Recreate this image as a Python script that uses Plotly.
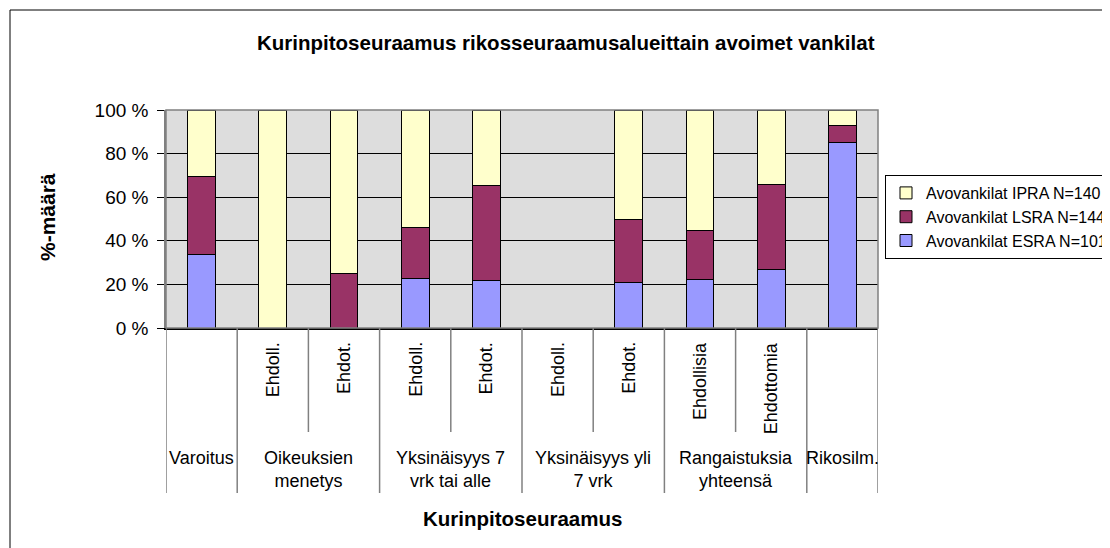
import plotly.graph_objects as go

# ---- data ----
sub_labels = ["", "Ehdoll.", "Ehdot.", "Ehdoll.", "Ehdot.", "Ehdoll.", "Ehdot.", "Ehdollisia", "Ehdottomia", ""]
group_labels = ["Varoitus", "Oikeuksien<br>menetys", "Yksinäisyys 7<br>vrk tai alle",
                "Yksinäisyys yli<br>7 vrk", "Rangaistuksia<br>yhteensä", "Rikosilm."]
group_sizes = [1, 2, 2, 2, 2, 1]
esra = [33.8, 0, 0, 22.8, 21.6, 0, 21.0, 22.4, 26.8, 85.1]
lsra = [35.9, 0, 25.0, 23.3, 43.6, 0, 29.0, 22.3, 39.0, 7.9]
ipra = [30.3, 100, 75.0, 53.9, 34.8, 0, 50.0, 55.3, 34.2, 7.0]
series_names = ["Avovankilat ESRA N=101", "Avovankilat LSRA N=144", "Avovankilat IPRA N=140"]
y_ticks = [0, 20, 40, 60, 80, 100]
y_ticktext = ["0 %", "20 %", "40 %", "60 %", "80 %", "100 %"]
title = "Kurinpitoseuraamus rikosseuraamusalueittain avoimet vankilat"
x_title = "Kurinpitoseuraamus"
y_title = "%-määrä"

# ---- layout geometry (page pixels; the page body adds an 8px offset) ----
OFF = 8
PAGE_W, PAGE_H = 1110, 548
W, H = PAGE_W - OFF, PAGE_H - OFF
PL, PR, PT, PB = 166, 878, 110, 328          # plot area in page pixels
L, T = PL - OFF, PT - OFF
R, B = W - (PR - OFF), H - (PB - OFF)
PW, PH = PR - PL, PB - PT
FONT = "Liberation Sans, Arial, sans-serif"
FS = 18

def px_x(px):
    return (px - PL) / PW

def px_y(py):
    return (PB - py) / PH

xs = list(range(len(sub_labels)))
colors = ["#9999FF", "#993366", "#FFFFCC"]

fig = go.Figure()
for vals, name, col in zip([esra, lsra, ipra], series_names, colors):
    fig.add_trace(go.Bar(x=xs, y=vals, name=name,
                         marker=dict(color=col, line=dict(color="#000000", width=1))))

shapes = []
# outer chart frame
shapes.append(dict(type="rect", xref="paper", yref="paper",
                   x0=px_x(10), x1=px_x(PAGE_W + 20), y0=px_y(PAGE_H + 20), y1=px_y(10),
                   line=dict(color="#000000", width=1), layer="below"))
# plot area border
shapes.append(dict(type="rect", xref="paper", yref="paper", x0=0, x1=1, y0=0, y1=1,
                   line=dict(color="#808080", width=1.5), layer="above"))
# category dividers below the axis
bounds = [-0.5]
for s in group_sizes:
    bounds.append(bounds[-1] + s)
long_y = px_y(493)
short_y = px_y(432)
for b in bounds:
    shapes.append(dict(type="line", xref="x", yref="paper", x0=b, x1=b, y0=0, y1=long_y,
                       line=dict(color="#808080", width=1.5)))
start = -0.5
for s in group_sizes:
    for k in range(1, s):
        xb = start + k
        shapes.append(dict(type="line", xref="x", yref="paper", x0=xb, x1=xb, y0=0, y1=short_y,
                           line=dict(color="#808080", width=1.5)))
    start += s

annotations = []
# sub labels (rotated)
for i, lab in enumerate(sub_labels):
    if lab:
        annotations.append(dict(x=i, y=0, xref="x", yref="paper", text=lab, showarrow=False,
                                textangle=-90, xanchor="center", yanchor="top", yshift=-12,
                                font=dict(family=FONT, size=FS, color="#000000")))
# group labels
start = -0.5
for lab, s in zip(group_labels, group_sizes):
    c = start + s / 2
    annotations.append(dict(x=c, y=0, xref="x", yref="paper", text=lab, showarrow=False,
                            xanchor="center", yanchor="top", yshift=-118,
                            font=dict(family=FONT, size=FS, color="#000000")))
    start += s
# axis titles
annotations.append(dict(x=0.5, y=px_y(518), xref="paper", yref="paper", text="<b>" + x_title + "</b>",
                        showarrow=False, xanchor="center", yanchor="middle",
                        font=dict(family=FONT, size=20.5, color="#000000")))
annotations.append(dict(x=px_x(47), y=px_y(217), xref="paper", yref="paper", text="<b>" + y_title + "</b>",
                        showarrow=False, xanchor="center", yanchor="middle", textangle=-90,
                        font=dict(family=FONT, size=21, color="#000000")))
# chart title
annotations.append(dict(x=px_x(565.5), y=px_y(42), xref="paper", yref="paper", text="<b>" + title + "</b>",
                        showarrow=False, xanchor="center", yanchor="middle",
                        font=dict(family=FONT, size=20.5, color="#000000")))

fig.update_layout(
    width=W, height=H,
    margin=dict(l=L, r=R, t=T, b=B, autoexpand=False),
    paper_bgcolor="#FFFFFF", plot_bgcolor="#DDDDDD",
    barmode="stack", bargap=0.61,
    xaxis=dict(range=[-0.5, len(xs) - 0.5], showticklabels=False, showgrid=False,
               zeroline=False, showline=True, linecolor="#000000", linewidth=1.5, ticks=""),
    yaxis=dict(range=[0, 100], tickvals=y_ticks, ticktext=y_ticktext, showgrid=True,
               gridcolor="#000000", gridwidth=1, zeroline=False, showline=True,
               linecolor="#808080", linewidth=1.5, ticks="outside", ticklen=7,
               tickcolor="#000000", ticklabelstandoff=5,
               tickfont=dict(family=FONT, size=19, color="#000000")),
    legend=dict(x=px_x(885), xanchor="left", y=px_y(175), yanchor="top",
                traceorder="reversed", bordercolor="#000000", borderwidth=1,
                bgcolor="#FFFFFF", font=dict(family=FONT, size=16, color="#000000"),
                itemwidth=30, tracegroupgap=0),
    shapes=shapes, annotations=annotations,
    showlegend=True,
)

fig.write_html("out.html")
